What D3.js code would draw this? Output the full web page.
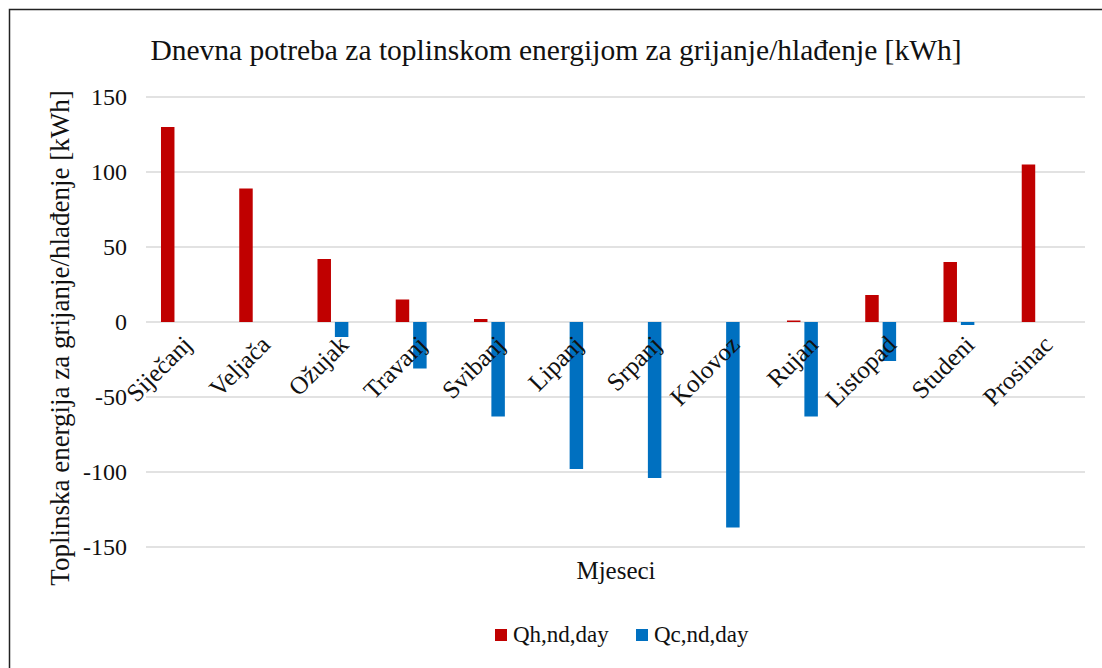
<!DOCTYPE html>
<html>
<head>
<meta charset="utf-8">
<script src="https://cdn.jsdelivr.net/npm/d3@7"></script>
<style>
  body { margin: 0; background: #fff; }
  svg text { font-family: "Liberation Serif", "Times New Roman", "DejaVu Serif", serif; fill: #111; }
</style>
</head>
<body>
<div id="chart"></div>
<script>
// data
const months = ["Siječanj", "Veljača", "Ožujak", "Travanj", "Svibanj", "Lipanj",
  "Srpanj", "Kolovoz", "Rujan", "Listopad", "Studeni", "Prosinac"];
const heating = [130, 89, 42, 15, 2, 0, 0, 0, 1, 18, 40, 105];
const cooling = [0, 0, -10, -31, -63, -98, -104, -137, -63, -26, -2, 0];
const seriesNames = ["Qh,nd,day", "Qc,nd,day"];
const seriesColors = ["#C00000", "#0070C0"];
const yTicks = [-150, -100, -50, 0, 50, 100, 150];

const width = 1102, height = 668;
const plot = { left: 146, right: 1085, top: 97, bottom: 547 };

const svg = d3.select("#chart").append("svg")
  .attr("width", width)
  .attr("height", height);

// chart border
svg.append("rect")
  .attr("x", 9.5).attr("y", 9.5)
  .attr("width", 1120).attr("height", 700)
  .attr("fill", "none")
  .attr("stroke", "#222")
  .attr("stroke-width", 1.5);

// scales
let x = d3.scaleBand()
  .domain(months)
  .range([plot.left, plot.right])
  .paddingInner(0.383)
  .paddingOuter(0.1915);

// three slots per month, the last one is an empty series in the original
let x1 = d3.scaleBand()
  .domain(["h", "c", "empty"])
  .range([0, x.bandwidth()])
  .paddingInner(0.225);

let y = d3.scaleLinear()
  .domain([-150, 150])
  .range([plot.bottom, plot.top]);

// gridlines
svg.append("g")
  .selectAll("line")
  .data(yTicks)
  .join("line")
  .attr("x1", plot.left).attr("x2", plot.right)
  .attr("y1", d => y(d)).attr("y2", d => y(d))
  .attr("stroke", "#D9D9D9")
  .attr("stroke-width", 1.5);

// y tick labels
svg.append("g")
  .selectAll("text")
  .data(yTicks)
  .join("text")
  .attr("x", 127)
  .attr("y", d => y(d))
  .attr("dy", "0.35em")
  .attr("text-anchor", "end")
  .style("font-size", "24px")
  .text(d => d);

// bars
const rows = months.map((m, i) => ({ month: m, h: heating[i], c: cooling[i] }));
[["h", 0], ["c", 1]].forEach(([key, si]) => {
  svg.append("g")
    .selectAll("rect")
    .data(rows)
    .join("rect")
    .attr("x", d => x(d.month) + x1(key))
    .attr("width", x1.bandwidth())
    .attr("y", d => y(Math.max(0, d[key])))
    .attr("height", d => Math.abs(y(d[key]) - y(0)))
    .attr("fill", seriesColors[si]);
});

// category labels, rotated
svg.append("g")
  .selectAll("text")
  .data(months)
  .join("text")
  .attr("transform", d => `translate(${x(d) + x.bandwidth() / 2 - 5}, ${y(0) + 11}) rotate(-45)`)
  .attr("text-anchor", "end")
  .attr("dy", "0.75em")
  .style("font-size", "25px")
  .text(d => d);

// title
svg.append("text")
  .attr("x", 556)
  .attr("y", 60)
  .attr("text-anchor", "middle")
  .style("font-size", "29.5px")
  .text("Dnevna potreba za toplinskom energijom za grijanje/hlađenje [kWh]");

// axis titles
svg.append("text")
  .attr("transform", `translate(69, 338) rotate(-90)`)
  .attr("text-anchor", "middle")
  .style("font-size", "27px")
  .text("Toplinska energija za grijanje/hlađenje [kWh]");

svg.append("text")
  .attr("x", 616)
  .attr("y", 579)
  .attr("text-anchor", "middle")
  .style("font-size", "25px")
  .text("Mjeseci");

// legend
const legendX = [495, 636];
const legend = svg.append("g")
  .selectAll("g")
  .data(seriesNames)
  .join("g")
  .attr("transform", (d, i) => `translate(${legendX[i]}, 629)`);
legend.append("rect")
  .attr("width", 12).attr("height", 12)
  .attr("fill", (d, i) => seriesColors[i]);
legend.append("text")
  .attr("x", 18)
  .attr("y", 13)
  .style("font-size", "23px")
  .text(d => d);
</script>
</body>
</html>
